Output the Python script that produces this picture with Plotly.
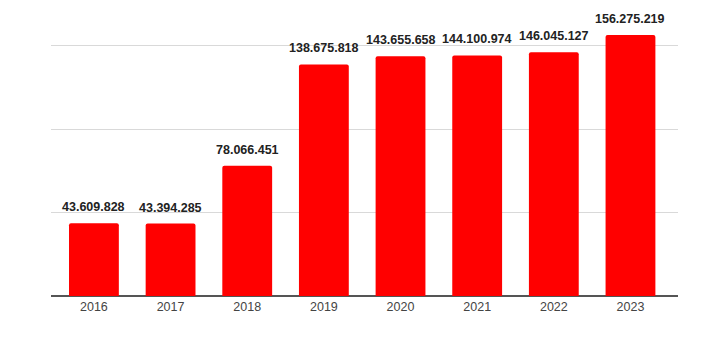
import plotly.graph_objects as go

years = ["2016", "2017", "2018", "2019", "2020", "2021", "2022", "2023"]
values = [43609828, 43394285, 78066451, 138675818, 143655658, 144100974, 146045127, 156275219]

def fmt(v):
    return f"{v:,}".replace(",", ".")

xs = list(range(len(years)))

fig = go.Figure()
fig.add_trace(go.Bar(
    x=xs, y=values, width=0.65,
    marker=dict(color="#ff0000", line=dict(width=0), cornerradius=2),
    hoverinfo="skip",
))

for x, v in zip(xs, values):
    fig.add_annotation(
        x=x, y=v, text="<b>" + fmt(v) + "</b>", showarrow=False,
        yanchor="bottom", yshift=7,
        font=dict(family="Liberation Sans, Arial, sans-serif", size=12.5, color="#222222"),
    )

fig.update_layout(
    width=716, height=349,
    margin=dict(l=51, r=38, t=10, b=53),
    paper_bgcolor="white", plot_bgcolor="white",
    showlegend=False,
    xaxis=dict(
        range=[-0.56, 7.62], tickmode="array", tickvals=xs, ticktext=years,
        showgrid=False, zeroline=False, showline=False, ticks="",
        ticklabelstandoff=1,
        tickfont=dict(family="Liberation Sans, Arial, sans-serif", size=12.5, color="#444444"),
        fixedrange=True,
    ),
    yaxis=dict(
        range=[0, 171.3e6], tickvals=[0, 50e6, 100e6, 150e6],
        showticklabels=False, showgrid=True, gridcolor="#d9d9d9", gridwidth=1,
        zeroline=True, zerolinecolor="#555555", zerolinewidth=1.5,
        fixedrange=True,
    ),
)

fig.write_html("out.html")
